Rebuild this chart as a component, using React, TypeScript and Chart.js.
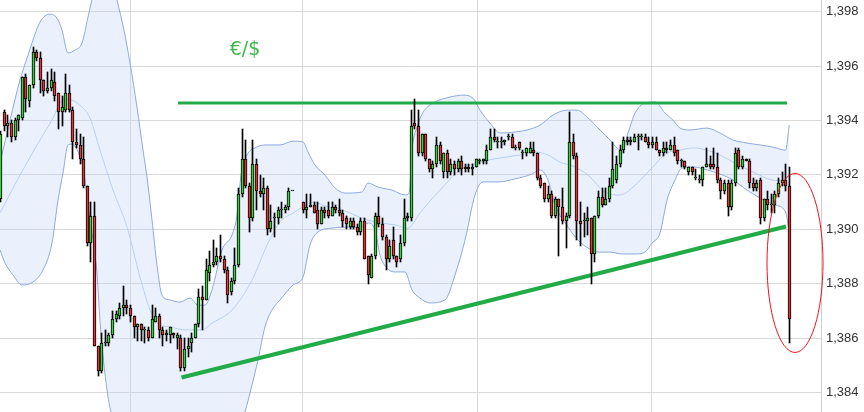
import React, { useEffect, useRef } from 'react';
import { Chart, registerables } from 'chart.js';

Chart.register(...registerables);

// Candle ordinal n = index + 1 (null = no trading in that slot)
const candleOpen = [
  1.3911,1.3943,1.3938,1.3939,1.3934,1.3940,1.3941,1.3956,1.3947,1.3953,
  1.3965,1.3963,1.3955,1.3951,1.3952,1.3954,1.3950,1.3943,1.3944,1.3950,
  1.3944,1.3932,1.3931,1.3926,1.3916,1.3895,1.3905,1.3857,1.3848,1.3858,
  1.3858,1.3861,1.3867,1.3868,1.3871,1.3872,1.3871,1.3868,1.3864,1.3865,
  1.3863,1.3863,1.3860,1.3866,1.3868,1.3863,1.3861,1.3861,1.3862,1.3860,
  1.3860,1.3849,1.3856,1.3858,1.3860,1.3865,1.3875,1.3874,1.3884,1.3887,
  1.3888,1.3890,1.3889,1.3885,1.3877,1.3881,1.3887,1.3913,1.3926,1.3916,
  1.3904,1.3924,1.3914,1.3913,1.3915,1.3900,1.3904,1.3904,1.3907,1.3907,
  1.3908,1.3914,null,null,1.3910,1.3907,1.3908,1.3909,1.3907,1.3902,
  1.3907,1.3907,1.3905,1.3908,1.3907,1.3906,1.3904,1.3901,1.3903,1.3901,
  1.3899,1.3903,1.3890,1.3882,1.3890,1.3905,1.3902,1.3897,1.3889,1.3896,
  1.3890,1.3889,1.3895,1.3904,1.3904,1.3939,1.3938,1.3928,1.3935,1.3926,
  1.3922,1.3924,1.3931,1.3921,1.3928,1.3921,1.3924,1.3922,1.3925,1.3922,
  1.3923,1.3922,1.3923,1.3925,1.3925,1.3925,1.3929,1.3934,1.3932,1.3932,
  1.3932,1.3934,1.3934,1.3930,1.3932,1.3928,1.3928,1.3928,1.3929,1.3928,
  1.3919,1.3917,1.3911,1.3913,1.3905,1.3911,1.3908,1.3903,1.3905,1.3932,
  1.3927,1.3903,1.3903,1.3903,1.3904,1.3891,1.3905,1.3912,1.3909,1.3911,
  1.3916,1.3918,1.3924,1.3929,1.3933,1.3932,1.3932,1.3934,1.3934,1.3934,
  1.3932,1.3931,1.3932,1.3929,1.3928,1.3930,1.3929,1.3931,1.3929,1.3925,
  1.3925,1.3921,1.3923,1.3919,1.3918,1.3918,1.3923,1.3924,1.3924,1.3923,
  1.3918,1.3914,1.3917,1.3908,1.3917,1.3929,1.3923,1.3926,1.3925,1.3917,
  1.3915,1.3918,1.3904,1.3911,1.3909,1.3909,1.3913,1.3917,1.3918,1.3916,
];
const candleHigh = [
  1.3936,1.3944,1.3942,1.3940,1.3941,1.3942,1.3956,1.3957,1.3953,1.3967,
  1.3966,1.3965,1.3955,1.3958,1.3959,1.3958,1.3950,1.3949,1.3957,1.3953,
  1.3945,1.3937,1.3935,1.3934,1.3916,1.3910,1.3910,1.3857,1.3862,1.3863,
  1.3862,1.3870,1.3870,1.3873,1.3879,1.3874,1.3872,1.3868,1.3865,1.3865,
  1.3864,1.3864,1.3872,1.3871,1.3869,1.3864,1.3863,1.3864,1.3862,1.3862,
  1.3861,1.3860,1.3860,1.3862,1.3865,1.3878,1.3879,1.3889,1.3892,1.3896,
  1.3893,1.3898,1.3890,1.3886,1.3882,1.3893,1.3915,1.3937,1.3933,1.3917,
  1.3933,1.3926,1.3920,1.3919,1.3916,1.3909,1.3906,1.3908,1.3910,1.3909,
  1.3915,1.3914,null,null,1.3910,1.3913,1.3913,1.3910,1.3910,1.3908,
  1.3908,1.3910,1.3910,1.3909,1.3911,1.3907,1.3905,1.3904,1.3904,1.3902,
  1.3904,1.3904,1.3890,1.3891,1.3906,1.3912,1.3904,1.3898,1.3896,1.3901,
  1.3890,1.3898,1.3911,1.3906,1.3944,1.3948,1.3944,1.3935,1.3935,1.3926,
  1.3925,1.3934,1.3932,1.3928,1.3929,1.3926,1.3925,1.3926,1.3927,1.3924,
  1.3924,1.3924,1.3926,1.3926,1.3926,1.3931,1.3937,1.3937,1.3934,1.3934,
  1.3933,1.3935,1.3935,1.3931,1.3932,1.3929,1.3930,1.3932,1.3932,1.3928,
  1.3920,1.3917,1.3916,1.3914,1.3912,1.3911,1.3915,1.3906,1.3943,1.3935,
  1.3928,1.3910,1.3906,1.3908,1.3904,1.3905,1.3914,1.3915,1.3915,1.3919,
  1.3932,1.3927,1.3931,1.3934,1.3934,1.3934,1.3935,1.3935,1.3935,1.3935,
  1.3934,1.3934,1.3934,1.3929,1.3932,1.3932,1.3933,1.3934,1.3929,1.3926,
  1.3925,1.3923,1.3923,1.3922,1.3920,1.3923,1.3930,1.3927,1.3930,1.3928,
  1.3919,1.3918,1.3918,1.3918,1.3930,1.3930,1.3927,1.3926,1.3926,1.3919,
  1.3918,1.3919,1.3911,1.3914,1.3913,1.3914,1.3919,1.3921,1.3924,1.3923,
];
const candleLow = [
  1.3910,1.3936,1.3934,1.3932,1.3933,1.3936,1.3940,1.3943,1.3945,1.3952,
  1.3962,1.3950,1.3949,1.3950,1.3951,1.3947,1.3937,1.3938,1.3943,1.3943,
  1.3926,1.3930,1.3924,1.3915,1.3894,1.3888,1.3857,1.3846,1.3847,1.3857,
  1.3857,1.3860,1.3866,1.3867,1.3868,1.3869,1.3866,1.3860,1.3859,1.3859,
  1.3858,1.3859,1.3860,1.3866,1.3860,1.3857,1.3859,1.3858,1.3860,1.3856,
  1.3848,1.3848,1.3853,1.3855,1.3860,1.3864,1.3863,1.3874,1.3881,1.3886,
  1.3887,1.3888,1.3884,1.3873,1.3876,1.3880,1.3886,1.3912,1.3915,1.3899,
  1.3903,1.3907,1.3912,1.3907,1.3898,1.3899,1.3897,1.3902,1.3904,1.3906,
  1.3907,1.3914,null,null,1.3906,1.3904,1.3908,1.3906,1.3900,1.3902,
  1.3904,1.3904,1.3905,1.3906,1.3905,1.3901,1.3900,1.3900,1.3900,1.3898,
  1.3898,1.3889,1.3880,1.3882,1.3889,1.3901,1.3896,1.3885,1.3888,1.3889,
  1.3886,1.3888,1.3894,1.3903,1.3903,1.3937,1.3927,1.3927,1.3925,1.3921,
  1.3919,1.3923,1.3924,1.3919,1.3919,1.3920,1.3920,1.3921,1.3920,1.3921,
  1.3921,1.3920,1.3923,1.3924,1.3924,1.3924,1.3929,1.3932,1.3930,1.3930,
  1.3931,1.3933,1.3930,1.3929,1.3929,1.3926,1.3927,1.3928,1.3927,1.3918,
  1.3915,1.3910,1.3910,1.3904,1.3904,1.3890,1.3902,1.3893,1.3904,1.3926,
  1.3896,1.3894,1.3897,1.3898,1.3880,1.3888,1.3904,1.3908,1.3909,1.3910,
  1.3915,1.3917,1.3923,1.3928,1.3931,1.3931,1.3932,1.3929,1.3933,1.3932,
  1.3930,1.3930,1.3929,1.3927,1.3927,1.3928,1.3929,1.3927,1.3924,1.3923,
  1.3922,1.3920,1.3920,1.3918,1.3917,1.3916,1.3923,1.3922,1.3922,1.3917,
  1.3911,1.3913,1.3905,1.3907,1.3916,1.3922,1.3922,1.3925,1.3915,1.3914,
  1.3914,1.3902,1.3903,1.3907,1.3906,1.3906,1.3912,1.3916,1.3914,1.3858,
];
const candleClose = [
  1.3935,1.3938,1.3939,1.3934,1.3940,1.3942,1.3956,1.3948,1.3953,1.3965,
  1.3963,1.3955,1.3951,1.3952,1.3955,1.3949,1.3943,1.3945,1.3950,1.3944,
  1.3932,1.3931,1.3926,1.3916,1.3895,1.3905,1.3857,1.3848,1.3858,1.3858,
  1.3861,1.3867,1.3869,1.3871,1.3872,1.3871,1.3868,1.3864,1.3865,1.3863,
  1.3863,1.3860,1.3867,1.3868,1.3863,1.3861,1.3862,1.3864,1.3861,1.3861,
  1.3849,1.3856,1.3857,1.3860,1.3865,1.3875,1.3874,1.3885,1.3887,1.3888,
  1.3890,1.3889,1.3885,1.3876,1.3881,1.3887,1.3913,1.3926,1.3916,1.3904,
  1.3924,1.3914,1.3913,1.3915,1.3900,1.3903,1.3904,1.3907,1.3907,1.3908,
  1.3914,1.3914,null,null,1.3907,1.3908,1.3909,1.3906,1.3902,1.3907,
  1.3906,1.3905,1.3908,1.3907,1.3906,1.3903,1.3902,1.3903,1.3901,1.3899,
  1.3903,1.3889,1.3883,1.3890,1.3905,1.3902,1.3897,1.3889,1.3894,1.3890,
  1.3888,1.3895,1.3904,1.3905,1.3938,1.3938,1.3928,1.3935,1.3926,1.3922,
  1.3924,1.3931,1.3925,1.3928,1.3921,1.3924,1.3922,1.3925,1.3922,1.3923,
  1.3922,1.3923,1.3926,1.3925,1.3926,1.3929,1.3934,1.3933,1.3932,1.3932,
  1.3933,1.3934,1.3930,1.3930,1.3930,1.3928,1.3930,1.3930,1.3928,1.3919,
  1.3916,1.3911,1.3913,1.3905,1.3911,1.3908,1.3903,1.3905,1.3932,1.3927,
  1.3903,1.3902,1.3903,1.3904,1.3891,1.3905,1.3912,1.3909,1.3911,1.3916,
  1.3922,1.3924,1.3929,1.3933,1.3932,1.3933,1.3934,1.3934,1.3934,1.3932,
  1.3931,1.3932,1.3929,1.3928,1.3930,1.3929,1.3931,1.3928,1.3925,1.3925,
  1.3923,1.3923,1.3921,1.3919,1.3918,1.3923,1.3924,1.3923,1.3923,1.3918,
  1.3914,1.3917,1.3908,1.3917,1.3928,1.3923,1.3926,1.3925,1.3917,1.3915,
  1.3917,1.3904,1.3911,1.3909,1.3909,1.3913,1.3917,1.3918,1.3916,1.3867,
];

// Bollinger bands: [candle ordinal, price]
const bandUpper = [
  [0.78,1.39243],[3.56,1.39401],[6.33,1.39549],[8.56,1.39640],[9.67,1.39685],[11.89,1.39762],
  [14.67,1.39791],[16.61,1.39776],[18.0,1.39732],[19.67,1.39648],[21.61,1.39659],[23.56,1.39685],
  [25.22,1.39780],[26.61,1.39861],[28.56,1.39971],[29.94,1.39990],[31.33,1.39953],[33.28,1.39843],
  [35.22,1.39732],[36.89,1.39611],[38.83,1.39449],[40.5,1.39291],[41.61,1.39192],[43.0,1.39034],
  [44.39,1.38868],[45.78,1.38758],[48.0,1.38740],[50.78,1.38732],[53.56,1.38747],[55.78,1.38721],
  [57.72,1.38721],[59.67,1.38777],[62.44,1.38924],[65.22,1.38979],[66.61,1.39052],[67.72,1.39199],
  [69.39,1.39273],[71.61,1.39299],[74.39,1.39310],[78.56,1.39310],[82.17,1.39324],[84.94,1.39321],
  [86.33,1.39284],[88.28,1.39236],[91.06,1.39199],[93.83,1.39152],[96.61,1.39133],[101.33,1.39137],
  [103.0,1.39170],[105.78,1.39155],[109.67,1.39144],[113.28,1.39126],[114.4,1.39133],[115.3,1.39300],
  [116.6,1.39375],[118.3,1.39430],[121.06,1.39464],[125.78,1.39486],[129.39,1.39493],[132.17,1.39482],
  [134.11,1.39438],[136.89,1.39390],[139.67,1.39354],[143.28,1.39357],[147.17,1.39365],[150.78,1.39383],
  [154.39,1.39420],[158.28,1.39438],[161.06,1.39438],[164.11,1.39409],[167.44,1.39365],[170.22,1.39328],
  [172.17,1.39299],[173.56,1.39291],[175.22,1.39354],[177.17,1.39427],[179.94,1.39464],[182.72,1.39468],
  [185.5,1.39427],[187.72,1.39401],[189.67,1.39372],[192.44,1.39365],[197.17,1.39372],[200.78,1.39354],
  [204.39,1.39328],[208.28,1.39317],[211.89,1.39310],[215.5,1.39302],[219.0,1.39291],[220,1.39383],
];
const bandMiddle = [
  [0.78,1.39060],[6.33,1.39199],[11.89,1.39328],[15.5,1.39409],[17.44,1.39464],[18.83,1.39479],
  [20.78,1.39475],[23.56,1.39449],[25.78,1.39409],[28.56,1.39291],[32.17,1.39144],[36.06,1.39008],
  [39.67,1.38824],[42.44,1.38703],[44.39,1.38655],[48.0,1.38641],[52.17,1.38630],[56.89,1.38630],
  [59.67,1.38655],[65.22,1.38703],[70.78,1.38813],[75.22,1.38949],[78.56,1.39027],[82.17,1.39060],
  [84.94,1.39082],[87.72,1.39100],[91.89,1.39082],[95.78,1.39071],[101.33,1.39041],[104.94,1.39027],
  [110.5,1.39016],[114.11,1.39004],[117.44,1.39060],[123.0,1.39144],[128.56,1.39218],[134.11,1.39247],
  [139.67,1.39262],[145.22,1.39273],[149.39,1.39284],[153.0,1.39273],[156.33,1.39247],[159.94,1.39232],
  [164.11,1.39199],[168.83,1.39137],[173.0,1.39126],[176.61,1.39155],[181.33,1.39218],[186.06,1.39280],
  [189.67,1.39291],[193.28,1.39299],[197.17,1.39291],[200.78,1.39273],[204.94,1.39243],[210.5,1.39207],
  [215.22,1.39181],[219.0,1.39174],[220,1.39160],
];
const bandLower = [
  [0.78,1.38924],[2.17,1.38876],[4.39,1.38832],[6.89,1.38795],[9.94,1.38806],[12.72,1.38850],
  [15.22,1.38949],[16.89,1.39107],[18.28,1.39207],[19.67,1.39310],[20.78,1.39313],[23.0,1.39266],
  [24.11,1.39210],[25.22,1.39089],[26.61,1.38960],[27.72,1.38839],[28.56,1.38660],[30.5,1.38409],
  [32.17,1.38299],[34.11,1.38225],[38.28,1.38115],[45.22,1.38041],[53.56,1.38023],[60.5,1.38078],
  [66.06,1.38207],[68.83,1.38328],[70.78,1.38427],[72.44,1.38519],[74.39,1.38641],[76.33,1.38703],
  [78.56,1.38740],[82.17,1.38795],[84.94,1.38824],[86.89,1.38942],[89.11,1.38990],[93.0,1.39004],
  [97.44,1.39008],[100.78,1.39004],[103.0,1.39023],[104.94,1.38997],[106.33,1.38905],[108.28,1.38857],
  [110.5,1.38843],[113.28,1.38843],[115.22,1.38777],[117.44,1.38747],[120.22,1.38729],[124.39,1.38740],
  [127.17,1.38832],[129.94,1.38960],[132.72,1.39126],[134.94,1.39174],[139.11,1.39174],[143.83,1.39185],
  [148.56,1.39203],[150.78,1.39218],[153.0,1.39181],[154.94,1.39089],[158.56,1.39008],[161.33,1.38960],
  [164.11,1.38931],[166.89,1.38916],[170.22,1.38916],[173.56,1.38909],[177.17,1.38909],[179.94,1.38916],
  [181.89,1.38949],[184.11,1.38986],[186.06,1.39107],[188.28,1.39181],[190.22,1.39225],[193.28,1.39229],
  [197.17,1.39218],[200.78,1.39203],[204.39,1.39181],[208.28,1.39144],[211.89,1.39115],[216.06,1.39089],
  [219.0,1.39063],[220,1.38990],
];

// Hand-drawn annotations, in data units
const resistanceLine = [[50.22, 1.39464], [219.39, 1.39464]];
const supportLine = [[51.19, 1.38455], [219.11, 1.39010]];
const highlightEllipse = { x: 221.61, y: 1.38876, rx: 7.78, ry: 0.00329 };
const pairLabel = { text: '€/$', x: 68.83, y: 1.39659 };

const yTickValues = [1.384, 1.386, 1.388, 1.390, 1.392, 1.394, 1.396, 1.398];
const xGridValues = [36.89, 84.94, 133.28, 181.61];

const Y_MIN = 1.38328;
const Y_MAX = 1.39843;
const X_MIN = 0.778;
const X_MAX = 228.83;

const UP = '#3ccf3c';
const DOWN = '#e23434';

const toPts = (arr: number[][]) => arr.map(([x, y]) => ({ x, y }));

const snapPlugin = {
  id: 'snapBars',
  beforeDatasetsDraw(chart: any) {
    chart.data.datasets.forEach((_: any, i: number) => {
      const meta = chart.getDatasetMeta(i);
      if (meta.type !== 'bar') return;
      meta.data.forEach((el: any) => {
        el.x = Math.floor(el.x) + 0.5;
        el.y = Math.round(el.y);
        el.base = Math.round(el.base);
      });
    });
  },
};

const annotationPlugin = {
  id: 'annotations',
  afterDatasetsDraw(chart: any) {
    const { ctx } = chart;
    const xs = chart.scales.x;
    const ys = chart.scales.y;
    ctx.save();
    const cx = xs.getPixelForValue(highlightEllipse.x);
    const cy = ys.getPixelForValue(highlightEllipse.y);
    const rx = xs.getPixelForValue(highlightEllipse.x + highlightEllipse.rx) - cx;
    const ry = cy - ys.getPixelForValue(highlightEllipse.y + highlightEllipse.ry);
    ctx.beginPath();
    ctx.ellipse(cx, cy, rx, ry, 0, 0, Math.PI * 2);
    ctx.strokeStyle = '#e8141e';
    ctx.lineWidth = 1;
    ctx.stroke();
    ctx.fillStyle = '#3db84a';
    ctx.font = '19px "DejaVu Sans"';
    ctx.textAlign = 'center';
    ctx.textBaseline = 'middle';
    ctx.fillText(pairLabel.text, xs.getPixelForValue(pairLabel.x), ys.getPixelForValue(pairLabel.y));
    ctx.restore();
  },
};

export default function App() {
  const ref = useRef<HTMLCanvasElement | null>(null);
  useEffect(() => {
    if (!ref.current) return;
    const bodies: any[] = [];
    const bodyColors: string[] = [];
    const wicks: any[] = [];
    candleOpen.forEach((o, i) => {
      const c = candleClose[i];
      const h = candleHigh[i];
      const l = candleLow[i];
      if (o == null || c == null || h == null || l == null) return;
      const n = i + 1;
      bodies.push({ x: n, y: [o, c] });
      bodyColors.push(c >= o ? UP : DOWN);
      if (h > l) wicks.push({ x: n, y: [l, h] });
    });

    const chart = new Chart(ref.current, {
      type: 'bar',
      data: {
        datasets: [
          {
            type: 'line', label: 'upper', data: toPts(bandUpper) as any,
            borderColor: '#8ea9dc', borderWidth: 1, pointRadius: 0,
            cubicInterpolationMode: 'monotone', fill: '+1',
            backgroundColor: 'rgba(190,212,246,0.32)', order: 5,
          } as any,
          {
            type: 'line', label: 'lower', data: toPts(bandLower) as any,
            borderColor: '#8ea9dc', borderWidth: 1, pointRadius: 0,
            cubicInterpolationMode: 'monotone', fill: false, order: 4,
          } as any,
          {
            type: 'line', label: 'middle', data: toPts(bandMiddle) as any,
            borderColor: '#b7cff2', borderWidth: 1, pointRadius: 0,
            cubicInterpolationMode: 'monotone', fill: false, order: 3,
          } as any,
          {
            type: 'line', label: 'resistance', data: toPts(resistanceLine) as any,
            borderColor: '#22ab48', borderWidth: 3, pointRadius: 0, fill: false, order: 2,
          } as any,
          {
            type: 'line', label: 'support', data: toPts(supportLine) as any,
            borderColor: '#22ab48', borderWidth: 4, pointRadius: 0, fill: false, order: 2,
          } as any,
          {
            type: 'bar', label: 'wicks', data: wicks, backgroundColor: '#000',
            barThickness: 1, grouped: false, borderWidth: 0, order: 1,
          } as any,
          {
            type: 'bar', label: 'bodies', data: bodies, backgroundColor: bodyColors,
            borderColor: '#000', borderWidth: 1, borderSkipped: false,
            barThickness: 3, minBarLength: 1, grouped: false, order: 0,
          } as any,
        ],
      },
      options: {
        animation: false,
        responsive: true,
        maintainAspectRatio: false,
        layout: { padding: 0 },
        plugins: {
          legend: { display: false },
          tooltip: { enabled: false },
          filler: { drawTime: 'beforeDatasetsDraw' } as any,
        },
        scales: {
          x: {
            type: 'linear', min: X_MIN, max: X_MAX, offset: false,
            grid: { color: '#d9d9d9', drawTicks: false, offset: false } as any,
            border: { display: false },
            ticks: { display: false },
            afterBuildTicks: (s: any) => { s.ticks = xGridValues.map((v) => ({ value: v })); },
            afterFit: (s: any) => { s.height = 0; s.paddingLeft = 0; s.paddingRight = 0; },
          } as any,
          y: {
            type: 'linear', position: 'right', min: Y_MIN, max: Y_MAX, beginAtZero: false,
            grid: { color: '#d9d9d9', drawTicks: false },
            border: { display: true, color: '#cfcfcf' },
            ticks: {
              padding: 5, color: '#333',
              font: { family: '"Liberation Sans", Arial, sans-serif', size: 13 },
              callback: (v: any) => Number(v).toFixed(3).replace('.', ','),
            },
            afterBuildTicks: (s: any) => { s.ticks = yTickValues.map((v) => ({ value: v })); },
            afterFit: (s: any) => { s.width = 43; s.paddingTop = 0; s.paddingBottom = 0; },
          } as any,
        },
      },
      plugins: [snapPlugin, annotationPlugin],
    });
    return () => chart.destroy();
  }, []);

  return (
    <div style={{ position: 'absolute', left: 0, top: 0, width: 864, height: 412, background: '#fff' }}>
      <canvas ref={ref} />
    </div>
  );
}
